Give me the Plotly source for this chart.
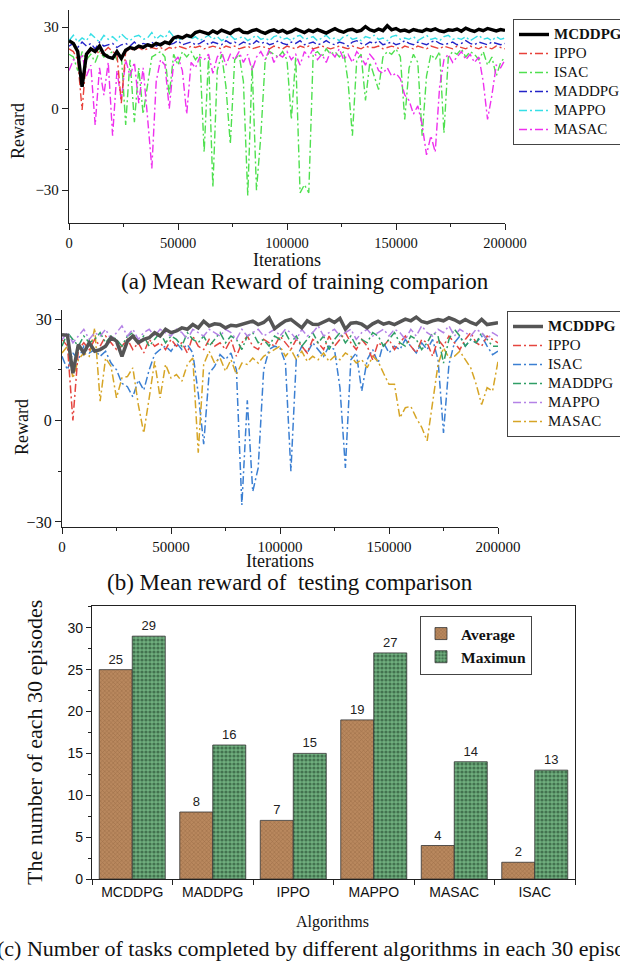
import plotly.graph_objects as go

W, H = 620, 962

# ---------------- data ----------------
ITER_A = list(range(0, 200001, 2000))   # training iterations grid (101 pts)
ITER_B = list(range(0, 200001, 2500))   # testing iterations grid (81 pts)

MCDDPG_A = [25, 24, 21, 8, 20, 22, 21, 23, 20, 19,
            18.5, 21, 18.5, 21.5, 22.5, 22, 23, 22.5, 23.5, 23,
            24, 23.5, 24.5, 24, 26, 26.5, 26, 27, 26.5, 28,
            28.5, 28, 27.5, 28.6, 27.8, 28.9, 28.2, 27.6, 28.8, 29.2,
            28.1, 27.9, 28.7, 29.1, 28.3, 27.7, 28.5, 29.0, 28.2, 28.8,
            27.9, 28.4, 29.3, 28.6, 28.0, 28.9, 28.3, 29.1, 28.5, 27.8,
            28.7, 29.4, 28.6, 28.1, 28.9, 29.2, 28.4, 28.8, 30.2, 29.0,
            28.5, 29.3, 28.7, 30.5, 29.0, 29.5, 28.6, 28.9, 28.3, 29.1,
            28.7, 28.4, 29.2, 28.8, 29.4, 28.6, 28.3, 29.0, 28.8, 29.3,
            28.5, 29.6, 28.9, 28.4, 29.2, 28.7, 29.5, 28.9, 28.6, 29.1,
            28.8]
IPPO_A = [22, 21, 18, -0.5, 19, 21.5, 22, 20, 21, 22.5,
          21, 20, 2, 21, 22, 21.5, 22.5, 21.5, 22, 22.5,
          22, 22.5, 21.5, 22.5, 22, 23, 22.5, 22, 23, 22.5,
          23, 22, 22.5, 23, 22.5, 22, 23, 22.5, 23, 22,
          22.5, 23, 22, 22.5, 23, 22.5, 22, 23, 22.5, 22,
          23, 22.5, 22, 23, 22.5, 23, 22, 22.5, 23, 22.5,
          22, 22.5, 23, 22.5, 22, 23, 22.5, 22, 23, 22.5,
          22.5, 23, 22, 22.5, 23, 22.5, 22, 23, 22.5, 22,
          23, 22.5, 22, 23, 22.5, 22, 23, 22.5, 22, 23,
          22.5, 22, 23, 22.5, 22, 23, 22.5, 22, 23, 22.5,
          22]
ISAC_A = [20, 19, 14, 21, 18, 20, 17, 21, 19, 20,
          21, 18, 20, -6, 18, -5, 15, -2, 8, 19,
          20, 21, 19, 5, 20, 16, 21, 19, 21, 18,
          20, -16, 19, -29, 14, 20, 8, -13, 18, 20,
          10, -32, 16, -30, -10, 18, 21, 20, 19, 21,
          18, -4, 19, -31, -28, -31, 20, 21, 19, 22,
          20, 21, 19, 21, 10, -10, 18, 20, 3, 17,
          12, 7, 19, 21, 20, 22, 19, -4, 15, 20,
          17, -10, 12, 20, 18, 21, -9, 19, 21, 20,
          22, 19, 21, 20, 18, 21, 16, 19, 12, 17,
          19]
MADDPG_A = [23, 24, 22.5, 24.5, 23, 24, 22, 24.5, 23, 23.5,
            24, 22.5, 23.5, 24, 23, 24.5, 23, 24, 23.5, 24.5,
            23, 24, 24.5, 23.5, 24, 25, 23.5, 24, 24.5, 23.5,
            24, 25, 23.5, 24.5, 24, 23.5, 25, 24, 24.5, 23.5,
            24.5, 24, 23.5, 25, 24, 24.5, 23.5, 24, 25, 24,
            23.5, 24.5, 24, 25, 23.5, 24, 24.5, 23.5, 24, 25,
            24, 23.5, 24.5, 24, 23, 24.5, 25, 24, 23.5, 24.5,
            24, 25, 23.5, 24, 24.5, 23.5, 24, 25, 24, 23.5,
            24.5, 24, 23.5, 24.5, 25, 24, 23.5, 24, 24.5, 23.5,
            24, 25, 24, 23.5, 24.5, 24, 23.5, 24.5, 24, 23.5,
            24]
MAPPO_A = [25, 27, 24.5, 26, 25, 27.5, 26, 24.5, 27, 25.5,
           26.5, 25, 27.5, 26, 25, 26.5, 27, 25.5, 26, 28,
           25.5, 27, 26, 28.5, 26.5, 25, 26, 27, 25.5, 26.5,
           25, 26, 27, 25.5, 26.5, 25, 26, 27, 25.5, 26,
           26.5, 25, 26, 27, 25.5, 26, 25, 26.5, 27, 25.5,
           26, 25, 26.5, 27, 25.5, 26, 26.5, 25, 26, 27,
           25.5, 26, 25, 26.5, 27, 25.5, 26, 25, 26.5, 26,
           27, 25.5, 26, 25, 26.5, 27, 25.5, 26, 25.5, 26.5,
           25, 26, 27, 25.5, 26, 25, 26.5, 27, 25.5, 26,
           25.5, 26.5, 25, 26, 27, 25.5, 26, 25, 26.5, 25.5,
           26]
MASAC_A = [14, 18, 17, 20, 12, 16, -6, 15, 5, 17,
           -10, 14, 3, 18, 12, 17, 2, 15, -3, -22,
           10, 18, 16, 0, 17, 19, 14, -2, 17, 15,
           19, 18, 20, 13, 19, 21, 16, 20, 18, 21,
           17, 20, 14, 19, 21, 18, 22, 17, 20, 19,
           21, 18, 20, 16, 21, 19, 22, 18, 20, 17,
           21, 19, 22, 18, 20, 17, 21, 19, 16, 20,
           18, 14, 13, 15, 12, 13, 11, 5, 3, -2,
           1, -6, -17, -10, -16, 8, 18, 20, 17, 19,
           21, 18, 20, 17, 19, 10, -4, 5, 16, 15,
           18]

MCDDPG_B = [25.4, 25.2, 14, 22.5, 20, 23, 20.5, 21, 22, 24.5,
            23.5, 19, 23.5, 25, 23, 24, 24.5, 26, 25, 27,
            26, 26.5, 27.4, 27, 28.4, 27.4, 29.4, 28, 28.6, 28.4,
            27.4, 28.2, 28, 28.5, 29, 29.4, 28.4, 29, 30.4, 27.2,
            28.4, 29.5, 29.9, 28.5, 27.4, 29.5, 28.5, 28.4, 29.2, 29.9,
            29, 30.2, 27, 28.8, 29, 28.5, 27.4, 28.6, 29.4, 28.5,
            29, 28.4, 29.2, 30, 29.5, 30.6, 29.3, 28.9, 29.5, 29.9,
            29.5, 30.4, 29.8, 28.9, 29.9, 29, 28.4, 29.9, 28.4, 28.6,
            28.9]
IPPO_B = [24, 22, 0, 21, 23, 21, 24, 22, 25, 23,
          21, 22, 24, 21, 23, 20, 24, 22, 23, 21,
          24, 22, 23, 20, 25, 22, 21, 24, 22, 23,
          21, 24, 19, 23, 25, 22, 21, 24, 23, 22,
          25, 23, 21, 24, 22, 20, 24, 23, 21, 25,
          22, 24, 26, 23, 21, 24, 22, 18, 23, 22,
          24, 21, 23, 25, 22, 20, 24, 23, 19, 24,
          22, 25, 23, 21, 24, 26, 23, 22, 25, 24,
          23]
ISAC_B = [19, 15, 20, 18, 22, 20, 21, 19, 20.5, 17,
          15, 11, 10, 7, 12, 9, 15, 19.6, 21, 22,
          20.5, 23, 21, 22.5, 20, 8, -7, 14, 16, 19.5,
          18, 20, 15, -25, 6, -21, -14, 15, 21, 22,
          21.5, 17, -15, 18.5, 22, 20, 23, 21, 19, 22,
          21, 9.7, -14, 18, 20, 8.7, 18, 21, 17, 23,
          20, 22, 21, 24, 22, 20, 23, 21, 24, 18,
          -3.7, 16.6, 23, 25, 22, 24, 23, 25, 22, 19.5,
          20.5]
MADDPG_B = [22, 26, 24, 22, 25, 23, 24, 26, 23, 25,
            24, 22, 25, 26, 23, 25, 22, 24, 26, 23,
            25, 24, 22, 26, 24, 23, 25, 22, 24, 26,
            23, 25, 24, 21, 25, 26, 23, 24, 22, 25,
            24, 26, 23, 25, 22, 24, 26, 23, 25, 21,
            24, 26, 23, 25, 22, 24, 23, 26, 25, 22,
            24, 26, 23, 22, 25, 24, 21, 23, 26, 25,
            17, 24, 27, 25, 22, 24, 23, 26, 24, 22,
            22]
MAPPO_B = [24, 26, 23, 25, 27, 24, 26, 25, 27, 24,
           26, 28, 25, 27, 24, 26, 27, 25, 27, 26,
           25, 27, 26, 24, 27, 26, 25, 27, 26, 25,
           27, 26, 24, 27, 25, 26, 27, 25, 26, 27,
           25, 27, 26, 24, 27, 25, 26, 28, 25, 26,
           27, 25, 26, 27, 24, 26, 27, 25, 26, 27,
           25, 27, 26, 24, 27, 25, 28, 26, 25, 27,
           26, 28, 25, 27, 26, 25, 27, 26, 24, 26,
           25]
MASAC_B = [20, 22, 12.5, 18, 20, 19, 27.4, 5.7, 18.5, 16,
           6.7, 12.6, 13, 15.6, 4.7, -3.7, 6.7, 17.5, 6.7, 16.6,
           12.6, 13.6, 11.6, 16.6, 18.5, -9.5, 16.6, 20.5, 17, 18.5,
           14.6, 18, 13.6, 17, 16.6, 18.5, 17, 19, 20, 21,
           22, 19, 21, 18, 20.5, 17.5, 19, 18, 20, 17.5,
           19, 18, 20, 19, 17, 18, 15.6, 19, 17.5, 14,
           10.7, 10.7, 0.8, 3.8, 4.2, 0.8, -2, -6, 4.7, 16.6,
           21.5, 18.5, 19, 20.5, 18, 15.6, 10.7, 4.7, 9.7, 8.7,
           17.5]

ALGS = ["MCDDPG", "MADDPG", "IPPO", "MAPPO", "MASAC", "ISAC"]
AVERAGE = [25, 8, 7, 19, 4, 2]
MAXIMUN = [29, 16, 15, 27, 14, 13]

# ---------------- helpers ----------------
SERIF = "Liberation Serif"
SANS = "Liberation Sans"


def fx(p):
    return p / W


def fy(p):
    return 1 - p / H


def big(s, size=15, bold=False):
    inner = f"<b>{s}</b>" if bold else s
    return f'<span style="font-size:{size}px">{inner}</span>'


DASH = "8px,3px,2px,3px"
fig = go.Figure()

# ---------------- panel (a) ----------------
colors_a = {"IPPO": "#e8413a", "ISAC": "#4fe04f", "MADDPG": "#2323c8",
            "MAPPO": "#35dfe6", "MASAC": "#ee30ee"}
series_a = [("ISAC", ISAC_A, 3), ("MASAC", MASAC_A, 6), ("IPPO", IPPO_A, 2),
            ("MADDPG", MADDPG_A, 4), ("MAPPO", MAPPO_A, 5)]
for name, vals, rank in series_a:
    fig.add_trace(go.Scatter(x=ITER_A, y=vals, mode="lines", name=big(name),
                             line=dict(color=colors_a[name], width=1.4, dash=DASH),
                             legend="legend", legendrank=rank, xaxis="x", yaxis="y"))
fig.add_trace(go.Scatter(x=ITER_A, y=MCDDPG_A, mode="lines", name=big("MCDDPG", bold=True),
                         line=dict(color="#000000", width=3.4),
                         legend="legend", legendrank=1, xaxis="x", yaxis="y"))

# ---------------- panel (b) ----------------
colors_b = {"IPPO": "#e5453f", "ISAC": "#3b7fd2", "MADDPG": "#2f9e66",
            "MAPPO": "#b482e6", "MASAC": "#d6a526"}
series_b = [("ISAC", ISAC_B, 3), ("MASAC", MASAC_B, 6), ("IPPO", IPPO_B, 2),
            ("MADDPG", MADDPG_B, 4), ("MAPPO", MAPPO_B, 5)]
for name, vals, rank in series_b:
    fig.add_trace(go.Scatter(x=ITER_B, y=vals, mode="lines", name=big(name),
                             line=dict(color=colors_b[name], width=1.5, dash=DASH),
                             legend="legend2", legendrank=rank, xaxis="x2", yaxis="y2"))
fig.add_trace(go.Scatter(x=ITER_B, y=MCDDPG_B, mode="lines", name=big("MCDDPG", bold=True),
                         line=dict(color="#555555", width=3.5),
                         legend="legend2", legendrank=1, xaxis="x2", yaxis="y2"))

# ---------------- panel (c) ----------------
fig.add_trace(go.Bar(x=ALGS, y=AVERAGE, name="<b>Average</b>", text=AVERAGE,
                     textposition="outside", cliponaxis=False,
                     textfont=dict(family=SANS, size=13, color="#222"),
                     marker=dict(color="#b07f57", line=dict(color="#333", width=0.8),
                                 pattern=dict(shape="x", bgcolor="#b9885e", fgcolor="#7a4f2e",
                                              size=3, solidity=0.3)),
                     legend="legend3", xaxis="x3", yaxis="y3"))
fig.add_trace(go.Bar(x=ALGS, y=MAXIMUN, name="<b>Maximun</b>", text=MAXIMUN,
                     textposition="outside", cliponaxis=False,
                     textfont=dict(family=SANS, size=13, color="#222"),
                     marker=dict(color="#5f9a6b", line=dict(color="#333", width=0.8),
                                 pattern=dict(shape=".", bgcolor="#6fae7d", fgcolor="#173522",
                                              size=4, solidity=0.5)),
                     legend="legend3", xaxis="x3", yaxis="y3"))

# ---------------- axes ----------------
base = dict(showline=True, linecolor="#222", linewidth=1.3, ticks="outside",
            ticklen=6, tickwidth=1.2, tickcolor="#222", showgrid=False,
            zeroline=False)
serif_tick = dict(family=SERIF, size=14.5, color="#111")

fig.update_layout(
    xaxis=dict(base, domain=[fx(69), fx(505)], range=[0, 200000], dtick=50000,
               tick0=0, tickformat="d", tickfont=serif_tick, anchor="y",
               minor=dict(ticks="outside", ticklen=3, dtick=25000, tickcolor="#222")),
    yaxis=dict(base, domain=[fy(223), fy(10)], range=[-42.1, 36.3], dtick=30,
               tick0=0, tickfont=dict(serif_tick, size=15), anchor="x",
               minor=dict(ticks="outside", ticklen=3, dtick=15, tickcolor="#222")),
    xaxis2=dict(base, domain=[fx(62), fx(498)], range=[0, 200000], dtick=50000,
                tick0=0, tickformat="d", tickfont=dict(serif_tick, size=15), anchor="y2",
                minor=dict(ticks="outside", ticklen=3, dtick=25000, tickcolor="#222")),
    yaxis2=dict(base, domain=[fy(527), fy(310)], range=[-31.5, 32.7], dtick=30,
                tick0=0, tickfont=dict(serif_tick, size=16), anchor="x2",
                minor=dict(ticks="outside", ticklen=3, dtick=15, tickcolor="#222")),
    xaxis3=dict(base, domain=[fx(92), fx(575)], type="category", tickson="boundaries",
                mirror=True, ticklen=5,
                tickfont=dict(family=SANS, size=14, color="#111"), anchor="y3"),
    yaxis3=dict(base, domain=[fy(879), fy(606)], range=[0, 32.6], dtick=5, tick0=0,
                mirror=True, ticklen=5,
                tickfont=dict(family=SANS, size=14, color="#111"), anchor="x3",
                minor=dict(ticks="outside", ticklen=3, dtick=2.5, tickcolor="#222")),
    barmode="group", bargap=0.18, bargroupgap=0,
)

legend_common = dict(bgcolor="white", bordercolor="#444", borderwidth=1,
                     xanchor="left", yanchor="top", tracegroupgap=0)
fig.update_layout(
    legend=dict(legend_common, x=fx(513), y=fy(19),
                font=dict(family=SERIF, size=11.6, color="#111")),
    legend2=dict(legend_common, x=fx(507), y=fy(311),
                 font=dict(family=SERIF, size=11.8, color="#111")),
    legend3=dict(legend_common, x=fx(420), y=fy(616),
                 font=dict(family=SERIF, size=15.5, color="#111")),
)

# ---------------- text annotations ----------------
ann = []


def text(s, x, y, size, angle=0, family=SERIF):
    ann.append(dict(text=s, x=fx(x), y=fy(y), xref="paper", yref="paper",
                    xanchor="center", yanchor="middle", showarrow=False,
                    textangle=angle, font=dict(family=family, size=size, color="#111")))


text("Iterations", 287, 260, 18)
text("Reward", 18, 131, 18, -90)
text("(a) Mean Reward of training comparion", 305, 282, 23)
text("Iterations", 280, 561, 18)
text("Reward", 22, 427, 18, -90)
text("(b) Mean reward of&nbsp; testing comparison", 290, 582, 23)
text("The number of each 30 episodes", 34, 743, 22, -90)
text("Algorithms", 332, 922, 16)
text("(c) Number of tasks completed by different algorithms in each 30 episodes", 326, 948, 22)

fig.update_layout(
    annotations=ann,
    width=W, height=H,
    margin=dict(l=0, r=0, t=0, b=0, autoexpand=False),
    paper_bgcolor="white", plot_bgcolor="white",
    font=dict(family=SERIF, color="#111"),
)

fig.write_html("out.html")
